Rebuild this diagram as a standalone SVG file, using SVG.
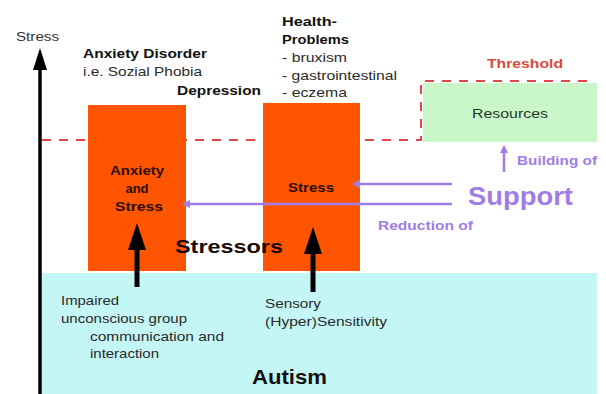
<svg xmlns="http://www.w3.org/2000/svg" width="606" height="394" viewBox="0 0 606 394">
<style>
text{font-family:"Liberation Sans",Arial,sans-serif;}
.b{font-weight:bold;}
.r{font-size:13px;fill:#2a2a2a;}
.bt{font-size:13.5px;font-weight:bold;fill:#111;}
.in{font-size:13px;font-weight:bold;fill:#2a0e00;}
.box{fill:#ff5500;}
.purp{stroke:#a07de6;stroke-width:2.5;fill:none;}
.pt{fill:#a07de6;font-weight:bold;}
.dash{stroke:#e04848;stroke-width:2;stroke-dasharray:9,8;fill:none;}
</style>
<defs>
<marker id="pa" markerWidth="8" markerHeight="8" refX="6" refY="4" orient="auto" markerUnits="userSpaceOnUse">
<path d="M0,0 L8,4 L0,8 z" fill="#a07de6"/>
</marker>
</defs>
<rect width="606" height="394" fill="#fff"/>
<g id="autism">
<rect x="42" y="273" width="555" height="121" fill="#c4f6f6"/>
<text x="252" y="384" class="b" font-size="21" fill="#111" textLength="75" lengthAdjust="spacingAndGlyphs">Autism</text>
<text x="61" y="305" class="r" textLength="58" lengthAdjust="spacingAndGlyphs">Impaired</text>
<text x="61" y="323" class="r" textLength="126" lengthAdjust="spacingAndGlyphs">unconscious group</text>
<text x="90" y="341" class="r" textLength="134" lengthAdjust="spacingAndGlyphs">communication and</text>
<text x="90" y="358" class="r" textLength="69" lengthAdjust="spacingAndGlyphs">interaction</text>
<text x="265" y="308" class="r" textLength="56" lengthAdjust="spacingAndGlyphs">Sensory</text>
<text x="265" y="326" class="r" textLength="122" lengthAdjust="spacingAndGlyphs">(Hyper)Sensitivity</text>
</g>
<g id="threshold">
<path class="dash" d="M42,140 H421 V81 H592"/>
<text x="487" y="68" class="b" font-size="13.5" fill="#d94a3a" textLength="76" lengthAdjust="spacingAndGlyphs">Threshold</text>
</g>
<g id="resources">
<rect x="423" y="83" width="174" height="59" fill="#c9f7c9"/>
<text x="472" y="118" font-size="13.5" fill="#1f3a1f" textLength="76" lengthAdjust="spacingAndGlyphs">Resources</text>
</g>
<g id="axis">
<line x1="40" y1="64" x2="40" y2="394" stroke="#000" stroke-width="3.5"/>
<path d="M33,70 L40,48 L47,70 z" fill="#000"/>
<text x="16" y="41" font-size="12" fill="#333" textLength="43" lengthAdjust="spacingAndGlyphs">Stress</text>
</g>
<g id="anxiety">
<rect class="box" x="88" y="105" width="98" height="166"/>
<text x="110" y="175" class="in" textLength="54" lengthAdjust="spacingAndGlyphs">Anxiety</text>
<text x="137" y="193" class="in" text-anchor="middle">and</text>
<text x="115" y="211" class="in" textLength="48" lengthAdjust="spacingAndGlyphs">Stress</text>
<text x="83" y="58" class="bt" textLength="124" lengthAdjust="spacingAndGlyphs">Anxiety Disorder</text>
<text x="83" y="76" class="r" textLength="119" lengthAdjust="spacingAndGlyphs">i.e. Sozial Phobia</text>
<text x="177" y="95" class="bt" textLength="84" lengthAdjust="spacingAndGlyphs">Depression</text>
</g>
<g id="health">
<rect class="box" x="263" y="103" width="97" height="168"/>
<text x="288" y="192" class="in" textLength="46" lengthAdjust="spacingAndGlyphs">Stress</text>
<text x="282" y="26" class="bt" textLength="55" lengthAdjust="spacingAndGlyphs">Health-</text>
<text x="282" y="44" class="bt" textLength="67" lengthAdjust="spacingAndGlyphs">Problems</text>
<text x="282" y="62" class="r" textLength="65" lengthAdjust="spacingAndGlyphs">- bruxism</text>
<text x="282" y="80" class="r" textLength="115" lengthAdjust="spacingAndGlyphs">- gastrointestinal</text>
<text x="282" y="97" class="r" textLength="65" lengthAdjust="spacingAndGlyphs">- eczema</text>
</g>
<g id="stressors">
<text x="175" y="253" class="b" font-size="18" fill="#1a0800" textLength="108" lengthAdjust="spacingAndGlyphs">Stressors</text>
</g>
<g id="support">
<text x="468" y="205" class="pt" font-size="26" textLength="105" lengthAdjust="spacingAndGlyphs">Support</text>
<text x="517" y="165" class="pt" font-size="13" textLength="80" lengthAdjust="spacingAndGlyphs">Building of</text>
<text x="378" y="230" class="pt" font-size="13" textLength="95" lengthAdjust="spacingAndGlyphs">Reduction of</text>
</g>
<g id="connectors">
<line class="purp" x1="452" y1="184" x2="354" y2="184" marker-end="url(#pa)"/>
<line class="purp" x1="452" y1="204" x2="184" y2="204" marker-end="url(#pa)"/>
<line class="purp" x1="504" y1="172" x2="504" y2="147" marker-end="url(#pa)"/>
<line x1="137" y1="287" x2="137" y2="245" stroke="#000" stroke-width="5"/>
<path d="M128,250 L137,223 L146,250 z" fill="#000"/>
<line x1="313" y1="292" x2="313" y2="250" stroke="#000" stroke-width="5"/>
<path d="M304,254 L313,227 L322,254 z" fill="#000"/>
</g>
</svg>
